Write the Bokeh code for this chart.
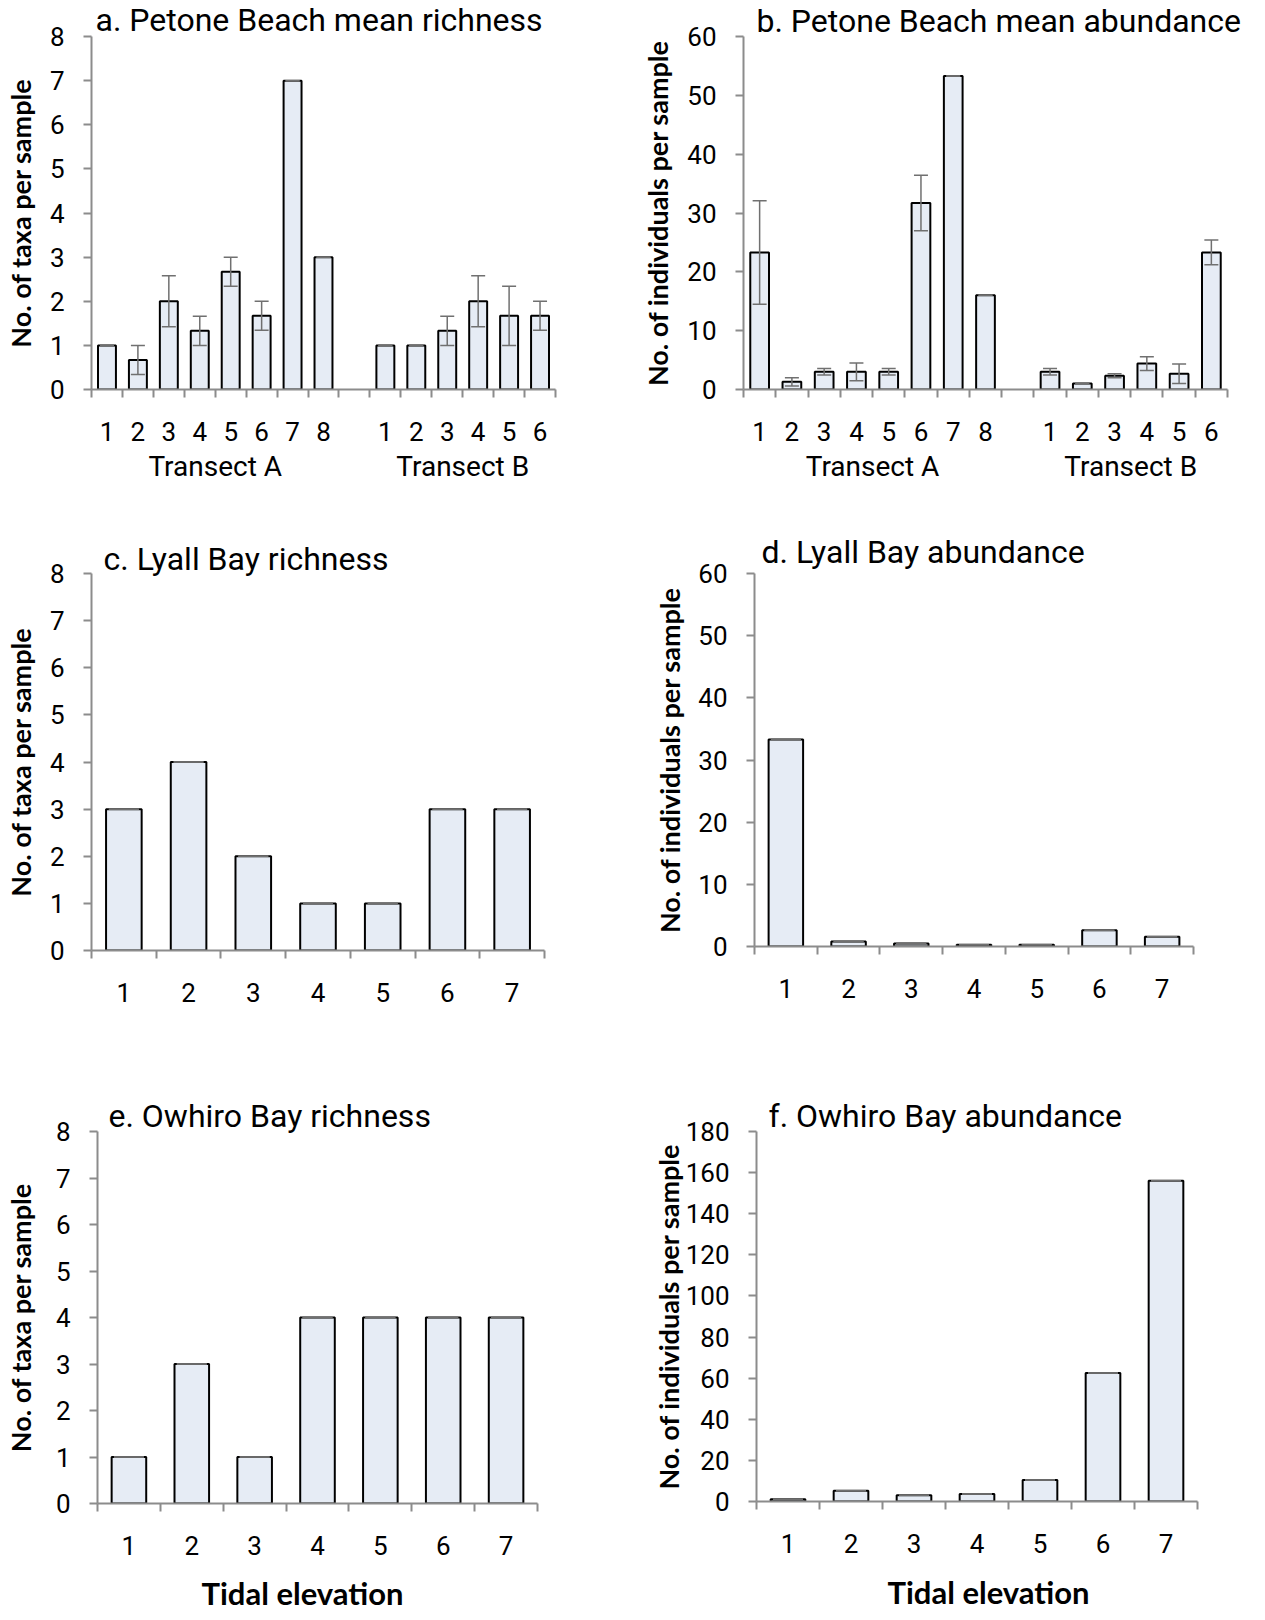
from bokeh.plotting import figure
from bokeh.models import (FixedTicker, ColumnDataSource, Range1d, Whisker,
                          TeeHead, LinearAxis, Title)
from bokeh.layouts import row, column
from bokeh.embed import file_html
from bokeh.resources import INLINE

# ---------------- data ----------------
# a. Petone Beach mean richness (taxa per sample)
petone_rich_A = [1.0, 0.67, 2.0, 1.33, 2.67, 1.67, 7.0, 3.0]
petone_rich_A_se = [0.0, 0.33, 0.58, 0.33, 0.33, 0.33, 0.0, 0.0]
petone_rich_B = [1.0, 1.0, 1.33, 2.0, 1.67, 1.67]
petone_rich_B_se = [0.0, 0.0, 0.33, 0.58, 0.67, 0.33]

# b. Petone Beach mean abundance (individuals per sample)
petone_abund_A = [23.3, 1.3, 3.0, 3.0, 3.0, 31.7, 53.3, 16.0]
petone_abund_A_se = [8.8, 0.7, 0.55, 1.5, 0.55, 4.7, 0.0, 0.0]
petone_abund_B = [3.0, 1.0, 2.33, 4.4, 2.67, 23.3]
petone_abund_B_se = [0.55, 0.0, 0.33, 1.15, 1.67, 2.1]

# c./d. Lyall Bay
lyall_rich = [3, 4, 2, 1, 1, 3, 3]
lyall_abund = [33.3, 0.8, 0.5, 0.27, 0.27, 2.6, 1.55]

# e./f. Owhiro Bay
owhiro_rich = [1, 3, 1, 4, 4, 4, 4]
owhiro_abund = [1.1, 5.2, 3.1, 3.7, 10.5, 62.5, 156.0]

transects = ["Transect A", "Transect B"]
tidal_label = "Tidal elevation"

# ---------------- style ----------------
FONT = "Roboto"
LABEL_FONT = "Lato"
BAR_FILL = "#E6ECF5"
AXIS = "#8C8C8C"
ERR = "#707070"


def panel(groups, errs, ymax, ystep, title, ylabel, fw, fh, bl, bt, br, bb,
          bar_w, cap_px, title_dx, title_standoff, ylab_standoff,
          group_names=None, group_standoff=6, xlabel=None, xlab_dx=0,
          xlab_standoff=0):
    xs, tops, lo, hi = [], [], [], []
    boundaries = [0]
    overrides = {}
    centers = []
    pos = 0
    for g, e in zip(groups, errs):
        start = pos
        for i, (v, ee) in enumerate(zip(g, e)):
            c = pos + 0.5
            xs.append(c)
            tops.append(v)
            lo.append(v - ee)
            hi.append(v + ee)
            overrides[c] = str(i + 1)
            pos += 1
            boundaries.append(pos)
        centers.append((start + pos) / 2)
        pos += 1
        boundaries.append(pos)
    nslots = pos - 1
    boundaries = sorted(set(b for b in boundaries if b <= nslots))

    p = figure(frame_width=fw, frame_height=fh,
               x_range=Range1d(0, nslots), y_range=Range1d(0, ymax),
               output_backend="svg", toolbar_location=None,
               min_border_left=bl, min_border_top=bt,
               min_border_right=br, min_border_bottom=bb)
    p.outline_line_color = None
    p.xgrid.visible = False
    p.ygrid.visible = False
    p.background_fill_color = "white"
    p.border_fill_color = "white"

    p.title = Title(text=title, align="left", offset=title_dx,
                    text_font=FONT, text_font_size="32px",
                    text_font_style="normal", text_color="black",
                    standoff=title_standoff)

    src = ColumnDataSource(dict(x=xs, top=tops, lo=lo, hi=hi))
    p.vbar(x="x", top="top", bottom=0, width=bar_w, source=src,
           fill_color=BAR_FILL, line_color="black", line_width=2)
    w = Whisker(base="x", upper="hi", lower="lo", source=src,
                line_color=ERR, line_width=1.5, level="annotation",
                upper_head=TeeHead(size=cap_px, line_color=ERR, line_width=1.5),
                lower_head=TeeHead(size=cap_px, line_color=ERR, line_width=1.5))
    p.add_layout(w)

    xa = p.xaxis[0]
    xa.ticker = FixedTicker(ticks=xs, minor_ticks=boundaries)
    xa.major_label_overrides = overrides
    xa.major_tick_line_color = None
    xa.major_tick_out = 0
    xa.major_tick_in = 0
    xa.minor_tick_out = 8
    xa.minor_tick_in = 0
    xa.minor_tick_line_color = AXIS
    xa.minor_tick_line_width = 2
    xa.axis_line_color = AXIS
    xa.axis_line_width = 2
    xa.major_label_text_font = FONT
    xa.major_label_text_font_size = "26px"
    xa.major_label_text_color = "black"
    xa.major_label_standoff = 24

    if group_names:
        ax2 = LinearAxis(ticker=FixedTicker(ticks=centers, minor_ticks=[]),
                         major_label_overrides={c: n for c, n in zip(centers, group_names)},
                         axis_line_color=None, major_tick_line_color=None,
                         minor_tick_line_color=None, major_tick_out=0,
                         major_tick_in=0, major_label_standoff=group_standoff,
                         major_label_text_font=FONT,
                         major_label_text_font_size="28px",
                         major_label_text_color="black")
        p.add_layout(ax2, "below")

    if xlabel:
        p.add_layout(Title(text=xlabel, align="left", offset=xlab_dx,
                           vertical_align="top", standoff=xlab_standoff,
                           text_line_height=0.35,
                           text_font=LABEL_FONT, text_font_size="31px",
                           text_font_style="bold", text_color="black"),
                     "below")

    ya = p.yaxis[0]
    ya.ticker = FixedTicker(ticks=list(range(0, ymax + 1, ystep)), minor_ticks=[])
    ya.major_tick_out = 8
    ya.major_tick_in = 0
    ya.major_tick_line_color = AXIS
    ya.major_tick_line_width = 2
    ya.minor_tick_line_color = None
    ya.axis_line_color = AXIS
    ya.axis_line_width = 2
    ya.major_label_text_font = FONT
    ya.major_label_text_font_size = "26px"
    ya.major_label_text_color = "black"
    ya.major_label_standoff = 19
    ya.axis_label = ylabel
    ya.axis_label_text_font = LABEL_FONT
    ya.axis_label_text_font_size = "27px"
    ya.axis_label_text_font_style = "bold"
    ya.axis_label_text_color = "black"
    ya.axis_label_standoff = ylab_standoff
    return p


zeros7 = [0] * 7

pa = panel([petone_rich_A, petone_rich_B], [petone_rich_A_se, petone_rich_B_se],
           8, 1, "a. Petone Beach mean richness", "No. of taxa per sample",
           464, 353, 85, 34, 75, 120, 0.58, 14, 4, -4, 10,
           group_names=transects, group_standoff=6)
pb = panel([petone_abund_A, petone_abund_B], [petone_abund_A_se, petone_abund_B_se],
           60, 10, "b. Petone Beach mean abundance", "No. of individuals per sample",
           484, 353, 113, 32, 28, 122, 0.58, 14, 13, -6, 10,
           group_names=transects, group_standoff=6)
pc = panel([lyall_rich], [zeros7], 8, 1, "c. Lyall Bay richness",
           "No. of taxa per sample", 453, 377, 89, 64, 82, 109, 0.55, 30,
           12, -8, 10)
pd_ = panel([lyall_abund], [zeros7], 60, 10, "d. Lyall Bay abundance",
            "No. of individuals per sample", 439, 373, 128, 63, 58, 114, 0.55, 30,
            7, 6, 9)
pe = panel([owhiro_rich], [zeros7], 8, 1, "e. Owhiro Bay richness",
           "No. of taxa per sample", 440, 372, 97, 72, 87, 103, 0.55, 30,
           11, -6, 16, xlabel=tidal_label, xlab_dx=104, xlab_standoff=33)
pf = panel([owhiro_abund], [zeros7], 180, 20, "f. Owhiro Bay abundance",
           "No. of individuals per sample", 441, 370, 132, 72, 52, 105, 0.55, 30,
           12, -6, -2, xlabel=tidal_label, xlab_dx=131, xlab_standoff=35)

layout = column(row(pa, pb), row(pc, pd_), row(pe, pf))

with open("out.html", "w") as f:
    f.write(file_html(layout, INLINE, title="Beach richness and abundance"))
